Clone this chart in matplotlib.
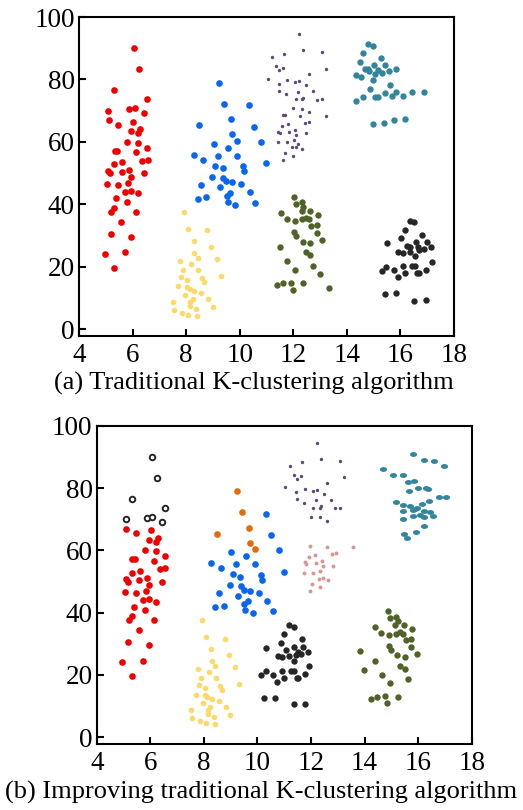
import numpy as np
import matplotlib
matplotlib.use("Agg")
import matplotlib.pyplot as plt

plt.rcParams['font.family'] = ['Liberation Serif', 'DejaVu Serif']

# ---- shared clusters (same points in both panels) ----
red_x = [5.11, 5.46, 6.03, 6.27, 5.94, 6.20, 6.54, 5.80, 6.22, 5.33, 5.41, 6.13, 6.36, 6.56,
         5.62, 5.31, 5.09, 5.16, 5.59, 5.87, 5.94, 6.42, 5.05, 5.46, 5.82, 5.72, 5.94, 6.20,
         5.40, 5.80, 5.32, 5.20, 6.13, 5.58, 5.18, 5.94, 4.96, 5.73, 5.32]
red_y = [67.0, 65.5, 66.5, 64.0, 63.5, 62.7, 58.2, 60.0, 59.7, 57.2, 57.2, 56.7, 54.0, 54.2,
         53.5, 52.8, 50.8, 50.0, 50.5, 51.1, 48.9, 50.0, 46.6, 46.3, 46.9, 44.0, 44.3, 43.5,
         41.9, 40.7, 38.9, 37.6, 37.5, 34.3, 30.5, 29.7, 24.2, 24.6, 19.7]

red_top_x = [6.06, 6.25, 5.32, 6.54, 5.09, 5.86, 6.08, 6.42]
red_top_y = [90.1, 83.2, 76.5, 73.7, 70.0, 70.4, 70.8, 69.2]

blue_x = [10.33, 10.52, 10.79, 10.98, 9.03, 9.57, 9.19, 9.90, 8.28, 8.62, 9.09, 9.36, 10.13, 10.17,
          8.96, 9.37, 9.48, 9.71, 8.56, 9.28, 10.04, 10.37, 9.65, 9.51, 8.43, 8.74, 9.55, 10.59, 9.83]
blue_y = [71.7, 64.9, 60.0, 53.2, 59.4, 58.1, 55.5, 55.6, 55.9, 54.3, 52.4, 51.5, 52.2, 50.6,
          48.9, 48.5, 47.4, 47.1, 46.2, 45.5, 46.4, 43.9, 43.7, 42.8, 41.8, 42.3, 40.7, 40.4, 39.8]

blue_top_x = [9.23, 9.42, 8.48, 9.69, 9.72, 9.89]
blue_top_y = [79.0, 72.2, 65.4, 67.3, 62.5, 60.4]

yellow_x = [7.93, 8.08, 8.79, 8.28, 8.94, 8.29, 8.43, 7.77, 9.16, 8.19, 7.88, 8.45, 9.31, 7.81,
            8.03, 8.61, 8.66, 7.71, 8.03, 8.13, 8.29, 8.56, 7.95, 8.24, 8.15, 8.81, 7.52, 7.55,
            8.15, 8.37, 8.99, 7.84, 8.08, 8.40]
yellow_y = [37.5, 32.1, 31.7, 28.3, 26.3, 24.4, 22.8, 22.0, 22.5, 20.9, 19.0, 19.1, 17.1, 16.6,
            15.9, 16.5, 15.2, 13.7, 13.6, 12.9, 12.3, 11.7, 11.1, 9.6, 8.8, 9.8, 8.6, 6.1,
            7.4, 6.6, 7.2, 5.1, 4.6, 4.2]

purple_x = [12.21, 11.65, 12.36, 13.08, 11.20, 11.37, 11.47, 11.63, 13.24, 12.59, 11.04, 11.76,
            12.06, 12.22, 11.45, 12.49, 11.46, 12.18, 12.74, 11.73, 12.09, 12.32, 12.37, 12.90,
            13.08, 11.99, 12.34, 12.60]
purple_y = [94.6, 88.3, 89.3, 88.9, 87.1, 84.3, 83.1, 83.8, 83.5, 81.6, 80.3, 79.7,
            79.2, 79.5, 78.7, 78.2, 76.4, 76.1, 76.3, 75.2, 73.6, 73.6, 74.2, 73.5,
            73.7, 70.9, 70.7, 69.5]

# ---- (a) traditional K-clustering ----
purple_low_x = [11.61, 11.68, 12.25, 13.24, 12.44, 12.59, 11.58, 11.82, 11.43, 11.49, 11.83, 12.06,
                12.11, 12.49, 11.42, 11.75, 12.01, 12.19, 11.94, 12.10, 12.32, 11.68, 11.99, 11.62]
purple_low_y = [68.6, 68.6, 68.2, 68.3, 66.1, 66.3, 65.1, 65.6, 63.3, 62.9, 63.3, 63.8,
                62.2, 62.9, 60.1, 59.9, 60.5, 59.3, 58.3, 58.4, 57.8, 56.6, 55.6, 54.2]

teal_a_x = [14.79, 14.97, 14.62, 15.28, 14.49, 15.01, 15.44, 14.67, 14.80, 14.81, 15.18, 15.57,
            15.85, 15.32, 15.07, 14.36, 14.54, 14.97, 15.62, 14.85, 15.41, 15.84, 16.45, 16.89,
            14.62, 15.06, 15.15, 15.67, 16.11, 14.36, 14.97, 15.40, 15.75, 16.19]
teal_a_y = [91.4, 90.8, 88.5, 86.8, 85.6, 84.5, 84.5, 83.4, 83.2, 82.7, 82.9, 82.8,
            83.2, 82.2, 81.8, 81.4, 80.9, 79.9, 78.2, 77.0, 75.7, 75.9, 76.0, 76.0,
            74.4, 74.4, 74.4, 74.6, 74.7, 73.2, 65.8, 65.9, 67.1, 67.2]

olive_a_x = [12.01, 12.10, 12.32, 12.38, 12.31, 12.61, 12.91, 11.53, 11.77, 12.06, 12.31, 12.49,
             12.59, 12.89, 12.68, 12.04, 12.11, 12.87, 12.35, 12.64, 13.07, 11.51, 12.47, 12.63,
             11.78, 12.74, 12.08, 12.99, 11.38, 11.63, 11.90, 12.35, 11.99, 13.32]
olive_a_y = [42.3, 40.2, 40.6, 39.0, 38.0, 37.8, 36.5, 37.1, 35.3, 34.6, 35.2, 35.6,
             35.3, 33.4, 33.0, 31.0, 29.9, 30.9, 28.1, 27.5, 28.5, 26.2, 24.7, 23.7,
             21.8, 20.3, 19.1, 17.7, 14.2, 14.8, 14.9, 14.7, 12.7, 13.3]

black_a_x = [16.34, 16.52, 16.18, 16.82, 15.49, 16.04, 16.23, 16.57, 17.00, 16.35, 16.67, 16.70,
             16.87, 17.14, 15.91, 16.10, 16.34, 16.53, 17.19, 15.48, 15.32, 15.75, 16.10, 16.42,
             16.53, 16.96, 16.18, 16.63, 16.70, 15.91, 15.41, 15.83, 16.52, 16.95]
black_a_y = [34.8, 34.2, 31.9, 30.2, 27.5, 29.1, 26.6, 27.9, 28.1, 26.4, 26.2, 25.3,
             25.7, 26.4, 24.9, 24.3, 24.9, 23.4, 21.7, 20.0, 18.8, 18.9, 20.2, 20.2,
             20.3, 19.1, 17.9, 18.0, 18.0, 16.7, 11.4, 11.5, 9.2, 9.3]

# ---- (b) improved K-clustering ----
pink_x = [11.98, 12.59, 13.58, 12.92, 12.77, 11.92, 12.16, 11.79, 11.83, 12.40, 12.18, 12.83,
          12.44, 11.74, 12.07, 12.35, 12.29, 12.45, 12.65, 12.03, 12.34, 11.96]
pink_y = [61.4, 61.0, 61.0, 59.1, 58.9, 57.9, 58.4, 56.3, 55.6, 56.6, 55.9, 55.1,
          54.9, 52.8, 52.7, 53.3, 50.9, 51.1, 50.5, 49.3, 48.3, 46.9]

teal_b_x = [15.82, 16.20, 16.58, 16.96, 14.69, 15.07, 15.45, 15.83, 15.62, 16.00, 16.30, 16.35,
            15.66, 16.76, 17.05, 16.42, 15.18, 15.44, 15.69, 16.13, 15.44, 15.81, 15.94, 15.88,
            16.22, 16.45, 16.08, 16.23, 15.82, 16.56, 15.45, 16.22, 15.93, 15.47, 15.60]
teal_b_y = [91.0, 89.1, 88.7, 87.0, 86.3, 84.4, 84.1, 82.4, 82.0, 80.2, 80.1, 79.9,
            79.0, 77.1, 77.1, 75.8, 75.5, 74.6, 74.3, 74.8, 72.6, 73.0, 73.5, 73.2,
            72.6, 72.2, 71.3, 70.8, 71.0, 71.0, 70.0, 67.9, 65.9, 65.4, 64.1]

black_b_x = [11.18, 11.35, 10.99, 11.65, 10.87, 11.37, 11.71, 11.06, 11.52, 11.44, 11.63, 11.88,
             11.18, 10.93, 11.35, 11.92, 10.93, 11.25, 11.37, 10.99, 11.46, 11.52, 11.78, 11.35,
             11.78, 10.32, 10.75, 10.14, 10.32, 10.59, 10.74, 10.23, 10.65]
black_b_y = [36.0, 35.4, 33.1, 31.5, 30.1, 29.0, 29.1, 28.0, 27.4, 26.4, 26.6, 27.3,
             26.0, 25.6, 24.4, 22.8, 21.2, 21.4, 21.4, 19.1, 19.1, 19.1, 20.2, 10.5,
             10.5, 28.7, 26.0, 19.9, 21.1, 20.0, 17.8, 12.5, 12.5]

olive_b_x = [14.87, 14.96, 15.18, 15.23, 15.15, 15.46, 14.39, 15.77, 14.63, 14.92, 15.19, 15.33,
             15.45, 15.54, 15.75, 14.90, 14.97, 15.73, 13.82, 15.21, 15.51, 15.94, 14.37, 15.31,
             15.51, 13.97, 14.64, 15.61, 14.93, 14.23, 14.48, 14.76, 15.23, 14.84]
olive_b_y = [40.6, 38.4, 38.7, 37.2, 36.0, 36.0, 35.3, 34.8, 33.4, 32.7, 33.3, 33.7,
             33.2, 31.3, 31.7, 29.2, 28.1, 29.1, 27.8, 26.3, 25.8, 26.8, 24.4, 23.0,
             22.0, 21.5, 20.0, 18.6, 17.3, 12.4, 12.9, 13.1, 13.0, 11.0]

RED = '#f20000'
BLUE = '#0a66f0'
YELLOW = '#ffd966'
PURPLE = '#5f497a'
TEAL = '#31859c'
OLIVE = '#4f6228'
BLACK = '#262626'
ORANGE = '#e36c09'
PINK = '#d99694'

# horizontally stretched dot used for the teal group in panel (b)
t = np.linspace(0, 2 * np.pi, 40)
ellipse = list(zip(1.45 * np.cos(t), np.sin(t)))


def style_axes(ax):
    ax.set_xlim(4, 18)
    ax.set_ylim(-2.2, 100)
    ax.set_xticks(range(4, 19, 2))
    ax.set_yticks(range(0, 101, 20))
    for s in ax.spines.values():
        s.set_linewidth(1.5)
    ax.tick_params(direction='in', length=5, width=1.5, labelsize=19.5, pad=3,
                   top=False, right=False)
    ax.tick_params(axis='x', pad=5)


fig = plt.figure(figsize=(5.23, 8.10), dpi=100)
ax1 = fig.add_axes([0.151, 0.585, 0.717, 0.394])
ax2 = fig.add_axes([0.185, 0.0815, 0.717, 0.3926])

# (a)
ax1.scatter(red_x + red_top_x, red_y + red_top_y, s=23, c=RED, linewidths=0)
ax1.scatter(blue_x + blue_top_x, blue_y + blue_top_y, s=23, c=BLUE, linewidths=0)
ax1.scatter(yellow_x, yellow_y, s=16, c=YELLOW, linewidths=0)
ax1.scatter(purple_x + purple_low_x, purple_y + purple_low_y, s=6, c=PURPLE, linewidths=0)
ax1.scatter(teal_a_x, teal_a_y, s=21, c=TEAL, linewidths=0)
ax1.scatter(olive_a_x, olive_a_y, s=21, c=OLIVE, linewidths=0)
ax1.scatter(black_a_x, black_a_y, s=21, c=BLACK, linewidths=0)
style_axes(ax1)

# (b)
ax2.scatter(red_x, red_y, s=23, c=RED, linewidths=0)
ax2.scatter(red_top_x, red_top_y, s=16, facecolors='white', edgecolors=BLACK, linewidths=1.4)
ax2.scatter(blue_x, blue_y, s=23, c=BLUE, linewidths=0)
ax2.scatter(blue_top_x, blue_top_y, s=23, c=ORANGE, linewidths=0)
ax2.scatter(yellow_x, yellow_y, s=16, c=YELLOW, linewidths=0)
ax2.scatter(purple_x, purple_y, s=6, c=PURPLE, linewidths=0)
ax2.scatter(pink_x, pink_y, s=8, c=PINK, linewidths=0)
ax2.scatter(teal_b_x, teal_b_y, s=26, c=TEAL, marker=ellipse, linewidths=0)
ax2.scatter(black_b_x, black_b_y, s=21, c=BLACK, linewidths=0)
ax2.scatter(olive_b_x, olive_b_y, s=21, c=OLIVE, linewidths=0)
style_axes(ax2)

fig.text(0.486, 0.527, '(a) Traditional K-clustering algorithm', ha='center', va='center', fontsize=19)
fig.text(0.499, 0.022, '(b) Improving traditional K-clustering algorithm', ha='center', va='center', fontsize=19)

fig.savefig('out.png', dpi=100)
